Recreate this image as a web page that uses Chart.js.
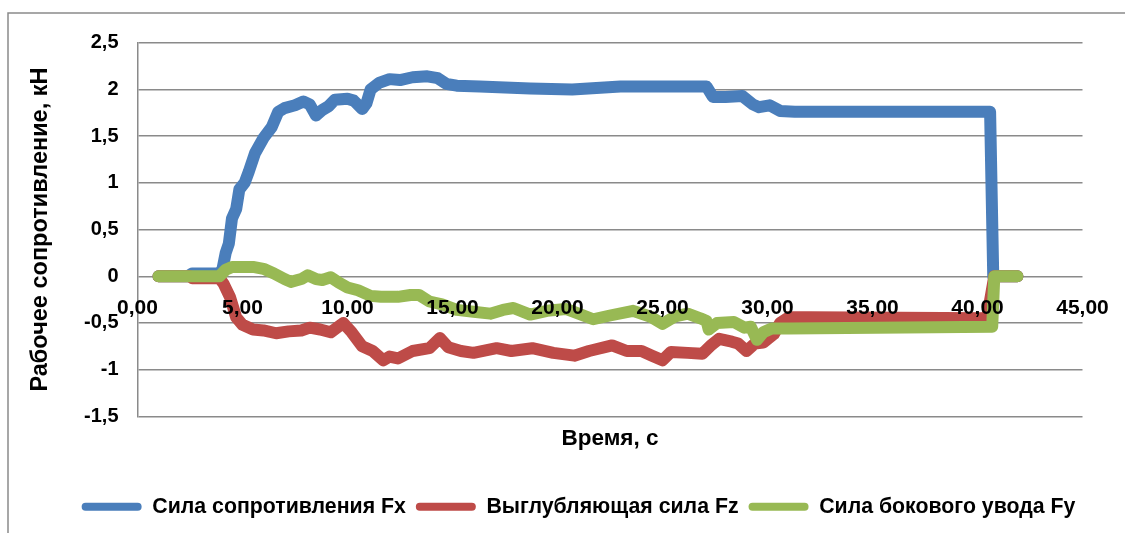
<!DOCTYPE html>
<html>
<head>
<meta charset="utf-8">
<script src="https://cdn.jsdelivr.net/npm/chart.js@4"></script>
<style>
  body { margin: 0; background: #fff; }
</style>
</head>
<body>
<canvas id="forceChart" width="1125" height="533"></canvas>
<script>
// Сила сопротивления Fx
const fxTime = [1.0, 2.4, 2.6, 3.9, 4.05, 4.2, 4.35, 4.5, 4.7, 4.85, 5.1, 5.3, 5.6, 6.0, 6.4, 6.7, 7.0, 7.5, 7.9, 8.2, 8.5, 8.8, 9.1, 9.4, 10.0, 10.3, 10.7, 10.9, 11.1, 11.5, 12.0, 12.5, 13.1, 13.8, 14.3, 14.7, 15.2, 16.3, 18.7, 20.7, 23.0, 25.0, 27.1, 27.4, 28.0, 28.8, 29.3, 29.6, 30.1, 30.6, 31.3, 40.6, 40.75, 41.9];
const fxValues = [0, 0, 0.03, 0.03, 0.08, 0.25, 0.35, 0.62, 0.72, 0.93, 1.0, 1.12, 1.32, 1.48, 1.6, 1.76, 1.8, 1.83, 1.87, 1.84, 1.72, 1.78, 1.82, 1.89, 1.9, 1.88, 1.79, 1.85, 2.0, 2.07, 2.11, 2.1, 2.13, 2.14, 2.12, 2.06, 2.04, 2.03, 2.01, 2.0, 2.03, 2.03, 2.03, 1.92, 1.92, 1.93, 1.84, 1.81, 1.83, 1.77, 1.76, 1.76, 0, 0];

// Выглубляющая сила Fz
const fzTime = [1.0, 2.5, 2.6, 3.9, 4.1, 4.4, 4.7, 5.0, 5.5, 6.0, 6.6, 7.2, 7.8, 8.2, 8.7, 9.2, 9.8, 10.2, 10.7, 11.2, 11.7, 12.0, 12.4, 13.1, 13.9, 14.4, 14.8, 15.4, 16.0, 17.1, 17.8, 18.8, 19.8, 20.8, 21.5, 22.6, 23.3, 24.0, 24.5, 25.0, 25.4, 26.2, 26.9, 27.3, 27.7, 28.3, 28.6, 29.0, 29.4, 29.8, 30.3, 30.6, 31.0, 32.0, 40.45, 40.8, 41.9];
const fzValues = [0, 0, -0.02, -0.02, -0.08, -0.22, -0.44, -0.52, -0.57, -0.58, -0.61, -0.59, -0.58, -0.55, -0.57, -0.6, -0.5, -0.6, -0.75, -0.8, -0.9, -0.86, -0.88, -0.8, -0.77, -0.66, -0.76, -0.8, -0.82, -0.77, -0.8, -0.77, -0.82, -0.85, -0.8, -0.74, -0.8, -0.8, -0.85, -0.9, -0.81, -0.82, -0.83, -0.74, -0.67, -0.7, -0.72, -0.8, -0.72, -0.71, -0.62, -0.5, -0.44, -0.44, -0.45, 0, 0];

// Сила бокового увода Fy
const fyTime = [1.0, 3.9, 4.2, 4.5, 5.5, 6.0, 6.5, 7.0, 7.3, 7.8, 8.1, 8.5, 8.8, 9.2, 9.6, 10.0, 10.5, 11.1, 11.6, 12.4, 13.0, 13.4, 13.9, 14.5, 15.2, 16.0, 16.8, 17.4, 17.9, 18.7, 19.5, 20.4, 21.0, 21.7, 22.5, 23.6, 24.4, 25.0, 25.6, 26.2, 26.8, 27.1, 27.2, 27.6, 28.4, 28.9, 29.2, 29.5, 29.8, 30.2, 31.0, 40.7, 40.8, 41.9];
const fyValues = [0, 0, 0.07, 0.1, 0.1, 0.08, 0.03, -0.03, -0.06, -0.03, 0.01, -0.03, -0.04, -0.01, -0.07, -0.12, -0.15, -0.21, -0.22, -0.22, -0.2, -0.2, -0.27, -0.3, -0.36, -0.38, -0.4, -0.36, -0.34, -0.41, -0.37, -0.35, -0.4, -0.46, -0.42, -0.37, -0.43, -0.51, -0.43, -0.4, -0.45, -0.48, -0.57, -0.5, -0.49, -0.55, -0.54, -0.68, -0.6, -0.56, -0.56, -0.54, 0, 0];

const seriesNames = ['Сила сопротивления Fx', 'Выглубляющая сила Fz', 'Сила бокового увода Fy'];
const seriesColors = ['#4A7EBB', '#BE4B48', '#98B954'];

const xTitle = 'Время, с';
const yTitle = 'Рабочее сопротивление, кН';

function toPoints(times, values) {
    return times.map((t, i) => ({ x: t, y: values[i] }));
}

const gridColor = '#8a8a8a';

// outer frame of the chart (left and top edges are visible)
const framePlugin = {
    id: 'frame',
    beforeDraw(chart) {
        const ctx = chart.ctx;
        ctx.save();
        ctx.fillStyle = '#fff';
        ctx.fillRect(0, 0, chart.width, chart.height);
        ctx.strokeStyle = gridColor;
        ctx.lineWidth = 1.5;
        ctx.beginPath();
        ctx.moveTo(8, chart.height);
        ctx.lineTo(8, 13);
        ctx.lineTo(chart.width, 13);
        ctx.stroke();
        ctx.restore();
    }
};

Chart.defaults.font.family = "'Liberation Sans', Arial, sans-serif";
Chart.defaults.font.weight = 'bold';
Chart.defaults.color = '#000';

const lineStyle = {
    borderWidth: 12,
    pointRadius: 0,
    borderCapStyle: 'round',
    borderJoinStyle: 'round',
    tension: 0,
    fill: false
};

const ctx = document.getElementById('forceChart').getContext('2d');
new Chart(ctx, {
    type: 'line',
    data: {
        datasets: [
            Object.assign({
                label: seriesNames[0],
                data: toPoints(fxTime, fxValues),
                borderColor: seriesColors[0],
                backgroundColor: seriesColors[0],
                order: 3
            }, lineStyle),
            Object.assign({
                label: seriesNames[1],
                data: toPoints(fzTime, fzValues),
                borderColor: seriesColors[1],
                backgroundColor: seriesColors[1],
                order: 2
            }, lineStyle),
            Object.assign({
                label: seriesNames[2],
                data: toPoints(fyTime, fyValues),
                borderColor: seriesColors[2],
                backgroundColor: seriesColors[2],
                order: 1
            }, lineStyle)
        ]
    },
    options: {
        responsive: false,
        animation: false,
        layout: {
            padding: { left: 32, right: 0, top: 42.7, bottom: 5.5 }
        },
        plugins: {
            tooltip: { enabled: false },
            legend: {
                position: 'bottom',
                labels: {
                    boxWidth: 60,
                    boxHeight: 8,
                    padding: 10,
                    useBorderRadius: true,
                    font: { size: 21.3, weight: 'bold' },
                    sort: (a, b) => a.datasetIndex - b.datasetIndex,
                    generateLabels: function (chart) {
                        const items = Chart.defaults.plugins.legend.labels.generateLabels(chart);
                        return items.map(item => {
                            const c = seriesColors[item.datasetIndex];
                            item.fillStyle = c;
                            item.strokeStyle = c;
                            item.lineWidth = 0;
                            item.borderRadius = 4;
                            return item;
                        });
                    }
                }
            }
        },
        scales: {
            x: {
                type: 'linear',
                position: { y: 0 },
                min: 0,
                max: 45,
                grid: { display: false },
                border: { display: false },
                ticks: {
                    z: 1,
                    stepSize: 5,
                    padding: 11,
                    autoSkip: false,
                    maxRotation: 0,
                    font: { size: 21, weight: 'bold' },
                    callback: value => value.toFixed(2).replace('.', ',')
                }
            },
            xTitleAxis: {
                type: 'linear',
                position: 'bottom',
                axis: 'x',
                min: 0,
                max: 45,
                grid: { display: false },
                border: { display: false },
                ticks: { display: false },
                title: {
                    display: true,
                    text: xTitle,
                    font: { size: 22.5, weight: 'bold' },
                    padding: { top: 0, bottom: 34 }
                },
                afterFit: scale => { scale.height = 69.8; }
            },
            y: {
                min: -1.5,
                max: 2.5,
                grid: { color: gridColor, lineWidth: 1.5, drawTicks: false },
                border: { display: true, color: gridColor, width: 1.5 },
                ticks: {
                    stepSize: 0.5,
                    padding: 19,
                    font: { size: 20, weight: 'bold' },
                    callback: value => String(Math.round(value * 10) / 10).replace('.', ',')
                },
                title: {
                    display: true,
                    text: yTitle,
                    font: { size: 23.5, weight: 'bold', lineHeight: 0.75 },
                    padding: 0
                },
                afterFit: scale => { scale.width = 105.5; }
            },
            yRightSpace: {
                type: 'linear',
                position: 'right',
                axis: 'y',
                grid: { display: false },
                border: { display: false },
                ticks: { display: false },
                afterFit: scale => { scale.width = 42.5; }
            }
        }
    },
    plugins: [framePlugin]
});
</script>
</body>
</html>
